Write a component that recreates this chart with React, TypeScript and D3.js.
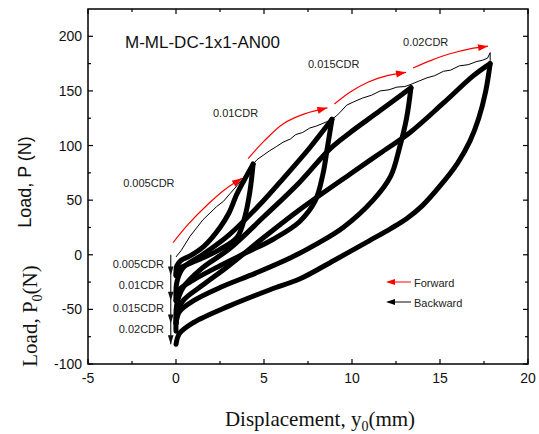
import React from 'react';
import * as d3 from 'd3';

const W = 539, H = 434;
const xDomain: [number, number] = [-5, 20];
const yDomain: [number, number] = [-100, 225];
const xTicks = [-5, 0, 5, 10, 15, 20];
const yTicks = [-100, -50, 0, 50, 100, 150, 200];
const xMinor = [-2.5, 2.5, 7.5, 12.5, 17.5];
const yMinor = [-75, -25, 25, 75, 125, 175];

type Pt = [number, number];

// first-loading envelope (thin line)
const envelope: Pt[] = [[0, -2], [0.3, 4], [0.8, 17], [1.53, 32], [2.3, 44], [2.7, 49], [3.07, 56], [3.4, 62], [3.75, 69], [4.1, 76], [4.38, 83], [4.6, 87], [4.77, 89], [5.3, 95], [5.7, 99], [6.08, 103], [6.5, 106], [6.8, 110], [7.2, 112], [7.6, 116], [8.0, 118], [8.3, 120], [8.6, 122], [8.86, 124], [9.1, 127], [9.3, 130], [9.7, 137], [10.1, 140], [10.6, 143.5], [11.1, 146], [11.6, 150], [12.1, 151], [12.55, 153.5], [13.0, 154], [13.35, 156], [13.8, 159], [14.26, 162], [14.7, 164], [15.2, 168], [15.6, 169], [16.1, 173], [16.6, 174], [17.1, 177], [17.4, 178], [17.7, 180], [17.85, 185], [17.85, 173]];

// cyclic loops (thick bands)
const up005: Pt[] = [[0, -19], [0.05, -10], [0.3, -5], [0.8, -1], [1.6, 8], [2.5, 25], [3.0, 38], [3.47, 56], [4.0, 72], [4.38, 83]];
const down005: Pt[] = [[4.38, 83], [4.2, 58], [3.9, 34], [3.47, 16], [2.5, 5], [1.5, -3], [0.5, -10], [0.1, -13], [0, -19]];
const up01: Pt[] = [[0, -42], [0.05, -25], [0.4, -12], [1.5, 0], [3, 18], [4.94, 49], [6.1, 70], [7.6, 98], [8.86, 124]];
const down01: Pt[] = [[8.86, 124], [8.6, 98], [8.35, 74], [7.9, 49], [7.0, 30], [5.5, 14], [4, 2], [2.5, -10], [1, -23], [0.2, -32], [0, -42]];
const up015: Pt[] = [[0, -63], [0.05, -45], [0.4, -30], [1.5, -12], [3, 5], [5, 35], [7, 66], [8.75, 97], [9.9, 112], [11.6, 132], [13.35, 153]];
const down015: Pt[] = [[13.35, 153], [13.1, 125], [12.7, 98], [12.2, 72], [11.2, 50], [9.5, 25], [8, 10], [6.48, -3], [4.5, -17], [2.5, -30], [1, -42], [0.2, -52], [0, -63]];
const up02: Pt[] = [[0, -70], [0.05, -55], [0.4, -42], [1.5, -28], [3, -10], [5, 16], [7, 41], [9.9, 74], [11.6, 93], [13.3, 112], [15.2, 139], [16.9, 164], [17.85, 175]];
const down02: Pt[] = [[17.85, 175], [17.6, 150], [17.2, 125], [16.7, 104], [16, 84], [15, 63], [14, 45], [13.1, 33], [12.2, 24], [11, 13], [9, -5], [7.05, -22], [5.34, -32], [3, -47], [1, -62], [0.2, -72], [0, -82]];

// red "forward" arrows
const fwd1: Pt[] = [[-0.17, 11], [0.7, 28], [1.8, 46], [2.8, 60], [3.75, 70]];
const fwd2: Pt[] = [[4.1, 88], [5.0, 104], [6.1, 120], [7.3, 129], [8.6, 134.5]];
const fwd3: Pt[] = [[9.0, 138], [9.9, 149], [10.9, 158], [12.0, 164], [13.07, 167]];
const fwd4: Pt[] = [[13.47, 171], [14.5, 178], [15.57, 184], [16.7, 188.5], [17.73, 191]];

// backward arrow minimum loads
const minLoads = [-19, -42, -63, -82];
const cdrLabels = ['0.005CDR', '0.01CDR', '0.015CDR', '0.02CDR'];
const cdrLabelLoads = [-12, -31, -52, -72];
const peakLabels: { t: string; x: number; y: number }[] = [
  { t: '0.005CDR', x: -3.0, y: 62 },
  { t: '0.01CDR', x: 2.1, y: 126 },
  { t: '0.015CDR', x: 7.5, y: 171 },
  { t: '0.02CDR', x: 12.9, y: 191 },
];

const SANS = '"Liberation Sans", Arial, sans-serif';
const SERIF = '"Liberation Serif", "Times New Roman", serif';

export default function App() {
  const x = d3.scaleLinear().domain(xDomain).range([88, 528]);
  const y = d3.scaleLinear().domain(yDomain).range([364, 9]);
  const line = d3.line<Pt>().x(d => x(d[0])).y(d => y(d[1])).curve(d3.curveCatmullRom.alpha(0.5));
  const lineLin = d3.line<Pt>().x(d => x(d[0])).y(d => y(d[1]));
  const [x0, x1] = x.range();
  const [yb, yt] = y.range();

  const arrowHead = (pts: Pt[], color: string, len = 9, wid = 3) => {
    const a = pts[pts.length - 2], b = pts[pts.length - 1];
    const ax = x(a[0]), ay = y(a[1]), bx = x(b[0]), by = y(b[1]);
    const ang = Math.atan2(by - ay, bx - ax);
    const c = Math.cos(ang), s = Math.sin(ang);
    const p1 = [bx - len * c + wid * s, by - len * s - wid * c];
    const p2 = [bx - len * c - wid * s, by - len * s + wid * c];
    return <path d={`M${bx},${by}L${p1[0]},${p1[1]}L${p2[0]},${p2[1]}Z`} fill={color} />;
  };

  const loops = [up005, down005, up01, down01, up015, down015, up02, down02];
  const fwds = [fwd1, fwd2, fwd3, fwd4];
  const arrX = x(-0.3);

  return (
    <svg width={W} height={H} style={{ position: 'absolute', left: 0, top: 0, background: '#fff' }}>
      <rect x={0} y={0} width={W} height={H} fill="#fff" />
      {/* loops */}
      <g fill="none" stroke="#000" strokeLinejoin="round" strokeLinecap="round">
        {loops.map((d, i) => <path key={i} d={line(d) || ''} strokeWidth={5} />)}
      </g>
      <path d={lineLin(envelope) || ''} fill="none" stroke="#000" strokeWidth={1} />
      {/* forward arrows */}
      <g fill="none" stroke="#ff0000" strokeWidth={1.2}>
        {fwds.map((d, i) => <path key={i} d={line(d) || ''} />)}
      </g>
      {fwds.map((d, i) => <g key={i}>{arrowHead(d, '#ff0000', 10, 3.5)}</g>)}
      {/* backward arrow */}
      <line x1={arrX} x2={arrX} y1={y(0)} y2={y(minLoads[3])} stroke="#333" strokeWidth={1.3} />
      {minLoads.map((m, i) => (
        <path key={i} d={`M${arrX},${y(m)}L${arrX - 2.8},${y(m) - 9}L${arrX + 2.8},${y(m) - 9}Z`} fill="#111" />
      ))}
      {cdrLabels.map((t, i) => (
        <text key={i} x={164} y={y(cdrLabelLoads[i])} textAnchor="end" fontFamily={SANS} fontSize={11} fill="#222">{t}</text>
      ))}
      {peakLabels.map((p, i) => (
        <text key={i} x={x(p.x)} y={y(p.y)} fontFamily={SANS} fontSize={11} fill="#222">{p.t}</text>
      ))}
      <text x={125} y={48} fontFamily={SANS} fontSize={17} fill="#111">M-ML-DC-1x1-AN00</text>
      {/* legend */}
      <line x1={388} x2={411} y1={282} y2={282} stroke="#ff7373" strokeWidth={1.8} />
      <path d="M386,282L395,279L395,285Z" fill="#ff0000" />
      <text x={414} y={287} fontFamily={SANS} fontSize={11} fill="#222">Forward</text>
      <line x1={388} x2={411} y1={302} y2={302} stroke="#777" strokeWidth={1.8} />
      <path d="M386,302L395,299L395,305Z" fill="#000" />
      <text x={414} y={307} fontFamily={SANS} fontSize={11} fill="#222">Backward</text>
      {/* frame */}
      <rect x={x0} y={yt} width={x1 - x0} height={yb - yt} fill="none" stroke="#000" strokeWidth={1.5} />
      {xTicks.map(t => (
        <g key={t}>
          <line x1={x(t)} x2={x(t)} y1={yb} y2={yb - 5} stroke="#000" strokeWidth={1.2} />
          <line x1={x(t)} x2={x(t)} y1={yt} y2={yt + 5} stroke="#000" strokeWidth={1.2} />
          <text x={x(t)} y={383} textAnchor="middle" fontFamily={SANS} fontSize={14} fill="#111">{t}</text>
        </g>
      ))}
      {xMinor.map(t => (
        <g key={t}>
          <line x1={x(t)} x2={x(t)} y1={yb} y2={yb - 3} stroke="#000" strokeWidth={1.2} />
          <line x1={x(t)} x2={x(t)} y1={yt} y2={yt + 3} stroke="#000" strokeWidth={1.2} />
        </g>
      ))}
      {yTicks.map(t => (
        <g key={t}>
          <line x1={x0} x2={x0 + 5} y1={y(t)} y2={y(t)} stroke="#000" strokeWidth={1.2} />
          <line x1={x1} x2={x1 - 5} y1={y(t)} y2={y(t)} stroke="#000" strokeWidth={1.2} />
          <text x={82} y={y(t) + 5} textAnchor="end" fontFamily={SANS} fontSize={14} fill="#111">{t}</text>
        </g>
      ))}
      {yMinor.map(t => (
        <g key={t}>
          <line x1={x0} x2={x0 + 3} y1={y(t)} y2={y(t)} stroke="#000" strokeWidth={1.2} />
          <line x1={x1} x2={x1 - 3} y1={y(t)} y2={y(t)} stroke="#000" strokeWidth={1.2} />
        </g>
      ))}
      {/* axis titles */}
      <text transform="translate(31,182) rotate(-90)" textAnchor="middle" fontFamily={SANS} fontSize={18} fill="#111">Load, P (N)</text>
      <text transform="translate(37,316) rotate(-90)" textAnchor="middle" fontFamily={SERIF} fontSize={21} fill="#111">
        Load, P<tspan fontSize={14} dy={5}>0</tspan><tspan dy={-5}>(N)</tspan>
      </text>
      <text x={320} y={426} textAnchor="middle" fontFamily={SERIF} fontSize={21} fill="#111">
        Displacement, y<tspan fontSize={14} dy={5}>0</tspan><tspan dy={-5}>(mm)</tspan>
      </text>
    </svg>
  );
}
